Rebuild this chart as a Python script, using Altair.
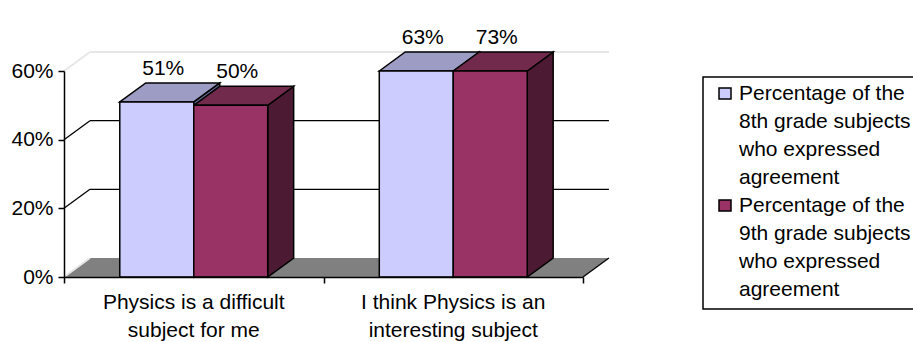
import altair as alt
import pandas as pd

# ---- data ----
categories = ["Physics is a difficult\nsubject for me",
              "I think Physics is an\ninteresting subject"]
series = ["Percentage of the\n8th grade subjects\nwho expressed\nagreement",
          "Percentage of the\n9th grade subjects\nwho expressed\nagreement"]
grade8 = [0.51, 0.63]
grade9 = [0.50, 0.73]
y_ticks = [0.0, 0.2, 0.4, 0.6]
grid_values = [0.2, 0.4]

# ---- style ----
front_colors = ["#CCCCFF", "#993366"]
top_colors = ["#9C9CC4", "#722A4C"]
side_colors = ["#6E6E9C", "#4D1A33"]
FONT = "Liberation Sans"
FS = 21
Y_MAX = 0.6
DX = 0.1      # depth, category units
DY = 0.0553   # depth, value units
BW = 0.285    # bar width, category units

xs = alt.Scale(domain=[0, 2], range=[64, 583], nice=False, zero=False)
ys = alt.Scale(domain=[0, Y_MAX], range=[277, 71], nice=False, zero=False)
xaxis = alt.Axis(title=None, values=[0, 1, 2], labels=False, tickSize=6, tickColor="black",
                 tickWidth=1.5, domainColor="black", domainWidth=1.5, grid=False,
                 offset=-65, zindex=1)
yaxis = alt.Axis(title=None, values=y_ticks, format=".0%", labelFont=FONT, labelFontSize=FS,
                 labelColor="black", tickSize=6, tickColor="black", tickWidth=1.5,
                 domainColor="black", domainWidth=1.5, grid=False, labelPadding=5,
                 offset=-64, zindex=1)

def X(f):
    return alt.X(f, type="quantitative", scale=xs, axis=xaxis)

def Y(f):
    return alt.Y(f, type="quantitative", scale=ys, axis=yaxis)

# ---- build geometry tables from the data ----
fronts, tops, sides, labels = [], [], [], []
for i, cat in enumerate(categories):
    for s, vals in enumerate([grade8, grade9]):
        v = vals[i]
        h = min(v, Y_MAX)
        x0 = i + 0.5 - BW + s * BW
        x1 = x0 + BW
        fronts.append(dict(series=series[s], fill=front_colors[s], x0=x0, x1=x1, base=0.0, h=h))
        fid = f"t{i}{s}"
        for px, pt, pb in [(x0, h, h), (x0 + DX, h + DY, h), (x1, h + DY, h), (x1 + DX, h + DY, h + DY)]:
            tops.append(dict(series=series[s], fill=top_colors[s], face=fid, x=px, yt=pt, yb=pb))
        sid = f"s{i}{s}"
        for px, pt, pb in [(x1, h, 0.0), (x1 + DX, h + DY, DY)]:
            sides.append(dict(series=series[s], fill=side_colors[s], face=sid, x=px, yt=pt, yb=pb))
        labels.append(dict(series=series[s], x=(x0 + x1) / 2 + DX * 0.25, y=h + DY, v=v))

fronts = pd.DataFrame(fronts)
tops = pd.DataFrame(tops)
sides = pd.DataFrame(sides)
labels = pd.DataFrame(labels)

floor = pd.DataFrame(dict(x=[0, DX, 2, 2 + DX], yt=[0, DY, DY, DY], yb=[0, 0, 0, DY]))

dark_lines = []
for g in grid_values:
    dark_lines.append(dict(x=0, y=g, x2=DX, y2=g + DY))
    dark_lines.append(dict(x=DX, y=g + DY, x2=2 + DX, y2=g + DY))
dark_lines.append(dict(x=2, y=0, x2=2 + DX, y2=DY))
dark_lines = pd.DataFrame(dark_lines)

light_lines = pd.DataFrame([
    dict(x=0, y=Y_MAX, x2=DX, y2=Y_MAX + DY),
    dict(x=DX, y=Y_MAX + DY, x2=2 + DX, y2=Y_MAX + DY),
    dict(x=0, y=0, x2=DX, y2=DY),
])

cats = pd.DataFrame(dict(cat=categories, x=[i + 0.5 for i in range(len(categories))], y=0.0))

fill = alt.Color("fill:N", scale=None)

floor_l = alt.Chart(floor).mark_area(color="#808080", interpolate="linear").encode(
    x=X("x"), y=Y("yt"), y2="yb")
dark_l = alt.Chart(dark_lines).mark_rule(color="black", strokeWidth=1.3).encode(
    x=X("x"), x2="x2", y=Y("y"), y2="y2")
light_l = alt.Chart(light_lines).mark_rule(color="#E6E6E6", strokeWidth=2).encode(
    x=X("x"), x2="x2", y=Y("y"), y2="y2")
side_l = alt.Chart(sides).mark_area(stroke="black", strokeWidth=1.5, interpolate="linear").encode(
    x=X("x"), y=Y("yt"), y2="yb", detail="face:N", fill=fill)
top_l = alt.Chart(tops).mark_area(stroke="black", strokeWidth=1.5, interpolate="linear").encode(
    x=X("x"), y=Y("yt"), y2="yb", detail="face:N", fill=fill)
front_l = alt.Chart(fronts).mark_rect(stroke="black", strokeWidth=1.5).encode(
    x=X("x0"), x2="x1", y=Y("base"), y2="h", fill=fill)
label_l = alt.Chart(labels).mark_text(font=FONT, fontSize=FS, color="black", baseline="alphabetic",
                                      dy=-8).encode(
    x=X("x"), y=Y("y"), text=alt.Text("v:Q", format=".0%"))
cat_l = alt.Chart(cats).mark_text(font=FONT, fontSize=FS, color="black", baseline="alphabetic",
                                  align="center", dy=32, lineBreak="\n", lineHeight=28).encode(
    x=X("x"), y=Y("y"), text="cat:N")

one = pd.DataFrame({"k": [0]})
legend_box = alt.Chart(one).mark_rect(fill="white", stroke="black", strokeWidth=1.5).encode(
    x=alt.value(703), x2=alt.value(990), y=alt.value(77), y2=alt.value(309))
legend_layers = [legend_box]
for s, name in enumerate(series):
    top_y = 88 + 112 * s
    legend_layers.append(alt.Chart(one).mark_rect(fill=front_colors[s], stroke="black", strokeWidth=1.5).encode(
        x=alt.value(719), x2=alt.value(731), y=alt.value(top_y), y2=alt.value(top_y + 11)))
    legend_layers.append(alt.Chart(pd.DataFrame({"t": [name]})).mark_text(
        font=FONT, fontSize=FS, color="black", align="left", baseline="alphabetic",
        lineBreak="\n", lineHeight=28).encode(
        x=alt.value(739), y=alt.value(top_y + 12), text="t:N"))

chart = alt.layer(floor_l, light_l, dark_l, side_l, top_l, front_l, label_l, cat_l,
                  *legend_layers).properties(
    width=913, height=342, autosize=alt.AutoSizeParams(type="none"), padding=0,
    background="white").configure_view(stroke=None)

chart.save("out.html", embed_options={"renderer": "svg", "actions": False})
